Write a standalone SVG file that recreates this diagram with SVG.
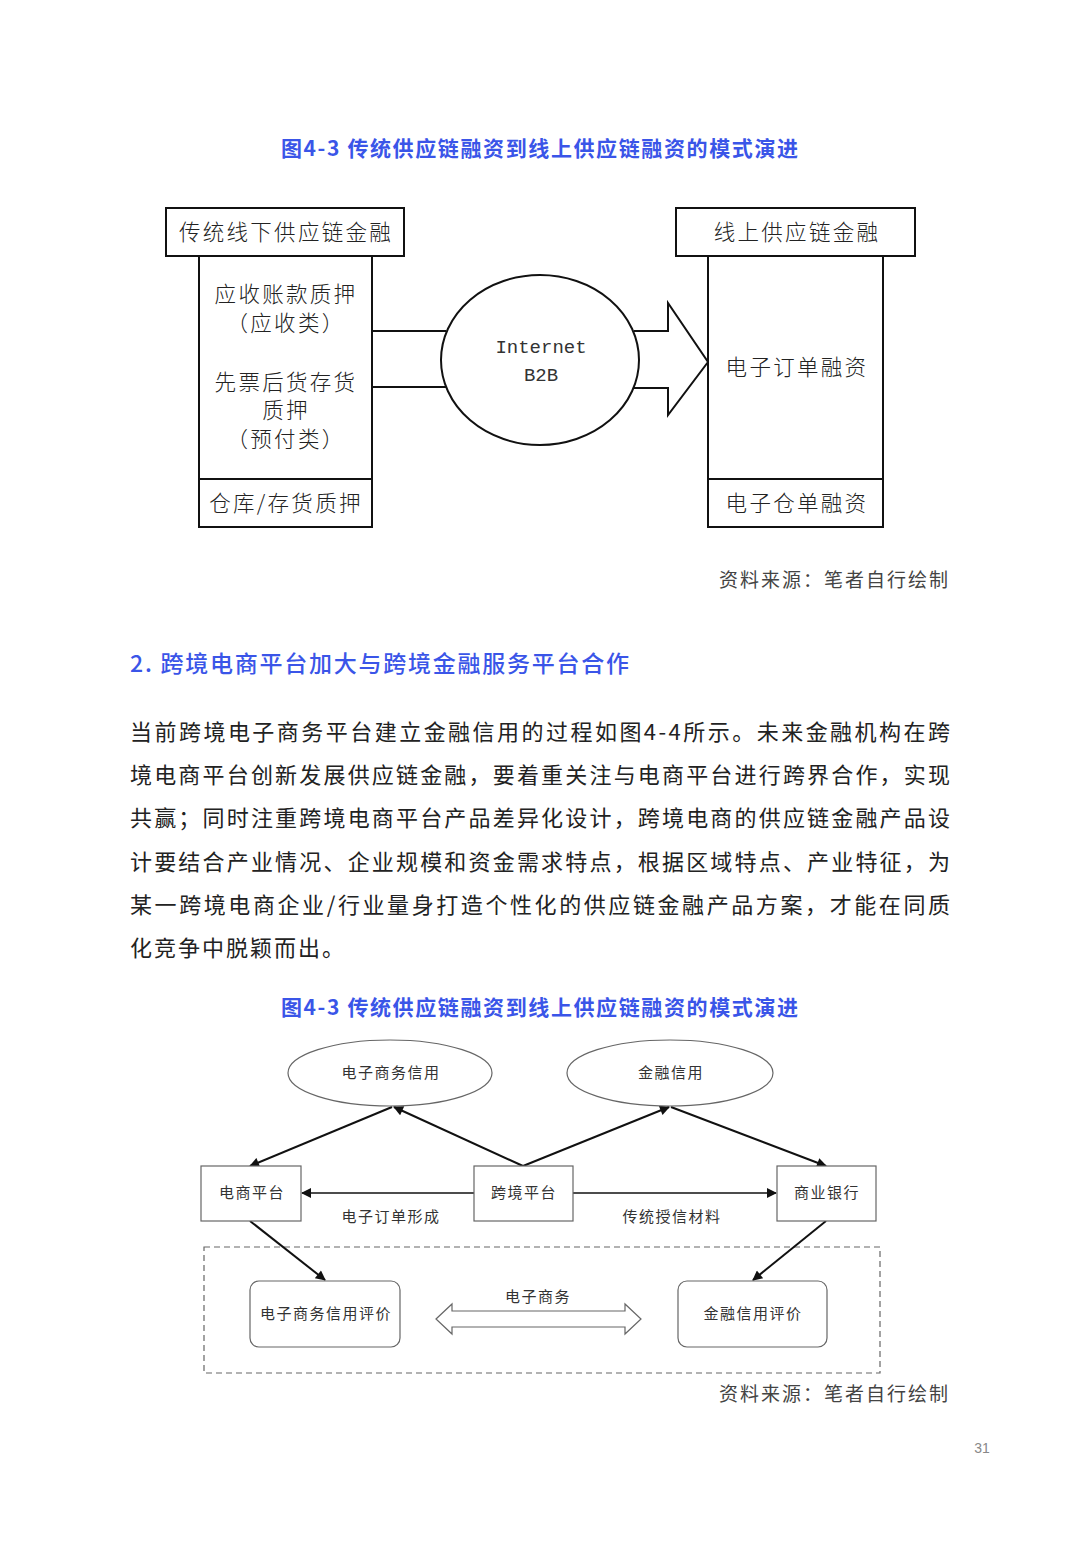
<svg xmlns="http://www.w3.org/2000/svg" width="1080" height="1560" viewBox="0 0 1080 1560">
<defs>
<style>
.ttl{font-family:"Noto Sans CJK SC","Noto Sans",sans-serif;font-size:21px;font-weight:bold;fill:#3a55e8}
.hd{font-family:"Noto Sans CJK SC","Noto Sans",sans-serif;font-size:23px;font-weight:500;fill:#3a55e8}
.para{font-family:"Noto Sans CJK SC","Noto Sans",sans-serif;font-size:22px;fill:#222}
.src{font-family:"Noto Sans CJK SC",sans-serif;font-size:19px;fill:#444;text-anchor:end;letter-spacing:2px}
.t1{font-family:"Noto Sans CJK SC",sans-serif;font-size:21.5px;fill:#222;text-anchor:middle;font-weight:300;letter-spacing:2.3px}
.mono{font-family:"Liberation Mono",monospace;font-size:19px;fill:#333;text-anchor:middle}
.bx{fill:#fff;stroke:#111;stroke-width:2}
.t2{font-family:"Noto Sans CJK SC",sans-serif;font-size:15px;fill:#333;text-anchor:middle;letter-spacing:1.5px}
.n2{fill:#fff;stroke:#666;stroke-width:1.2}
.ar{stroke:#111;stroke-width:2;fill:none;marker-end:url(#ah)}
</style>
<marker id="ah" viewBox="0 0 10 10" refX="9" refY="5" markerWidth="12" markerHeight="10" markerUnits="userSpaceOnUse" orient="auto">
<path d="M0,0 L10,5 L0,10 z" fill="#111"/>
</marker>
</defs>
<rect width="1080" height="1560" fill="#fff"/>

<text class="ttl" x="281" y="156" textLength="517" lengthAdjust="spacing">图4-3 传统供应链融资到线上供应链融资的模式演进</text>

<!-- Top diagram -->
<g id="connectors-top">
<line x1="372" y1="331" x2="446" y2="331" stroke="#111" stroke-width="2"/>
<line x1="372" y1="387" x2="446" y2="387" stroke="#111" stroke-width="2"/>
<path d="M634,331 L668,331 L668,303 L708,362 L668,415 L668,388 L634,388" fill="#fff" stroke="#111" stroke-width="2"/>
</g>
<g id="offline-header">
<rect class="bx" x="166" y="208" width="238" height="48"/>
<text class="t1" x="286" y="240">传统线下供应链金融</text>
</g>
<g id="offline-body">
<rect class="bx" x="199" y="256" width="173" height="223"/>
<text class="t1" x="286" y="302">应收账款质押</text>
<text class="t1" x="286" y="331">（应收类）</text>
<text class="t1" x="286" y="390">先票后货存货</text>
<text class="t1" x="286" y="418">质押</text>
<text class="t1" x="286" y="447">（预付类）</text>
</g>
<g id="offline-bottom">
<rect class="bx" x="199" y="479" width="173" height="48"/>
<text class="t1" x="286" y="511">仓库/存货质押</text>
</g>
<g id="internet">
<ellipse cx="540" cy="360" rx="99" ry="85" fill="#fff" stroke="#111" stroke-width="2"/>
<text class="mono" x="541" y="353">Internet</text>
<text class="mono" x="541" y="381">B2B</text>
</g>
<g id="online-header">
<rect class="bx" x="676" y="208" width="239" height="48"/>
<text class="t1" x="797" y="240">线上供应链金融</text>
</g>
<g id="online-body">
<rect class="bx" x="708" y="256" width="175" height="223"/>
<text class="t1" x="797" y="375">电子订单融资</text>
</g>
<g id="online-bottom">
<rect class="bx" x="708" y="479" width="175" height="48"/>
<text class="t1" x="797" y="511">电子仓单融资</text>
</g>

<text class="src" x="950" y="587">资料来源：笔者自行绘制</text>

<text class="hd" x="130" y="672" textLength="499" lengthAdjust="spacing">2.  跨境电商平台加大与跨境金融服务平台合作</text>

<text class="para" x="130" y="740" textLength="820" lengthAdjust="spacing">当前跨境电子商务平台建立金融信用的过程如图4-4所示。未来金融机构在跨</text>
<text class="para" x="130" y="783" textLength="820" lengthAdjust="spacing">境电商平台创新发展供应链金融，要着重关注与电商平台进行跨界合作，实现</text>
<text class="para" x="130" y="826" textLength="820" lengthAdjust="spacing">共赢；同时注重跨境电商平台产品差异化设计，跨境电商的供应链金融产品设</text>
<text class="para" x="130" y="870" textLength="820" lengthAdjust="spacing">计要结合产业情况、企业规模和资金需求特点，根据区域特点、产业特征，为</text>
<text class="para" x="130" y="913" textLength="820" lengthAdjust="spacing">某一跨境电商企业/行业量身打造个性化的供应链金融产品方案，才能在同质</text>
<text class="para" x="130" y="956" letter-spacing="2">化竞争中脱颖而出。</text>

<text class="ttl" x="281" y="1015" textLength="517" lengthAdjust="spacing">图4-3 传统供应链融资到线上供应链融资的模式演进</text>

<!-- Bottom diagram -->
<rect id="eval-zone" x="204" y="1247" width="676" height="126" fill="none" stroke="#666" stroke-width="1.2" stroke-dasharray="6,4"/>
<g id="connectors-bottom">
<line class="ar" x1="523" y1="1166" x2="394" y2="1107"/>
<line class="ar" x1="392" y1="1107" x2="250" y2="1166"/>
<line class="ar" x1="523" y1="1166" x2="669" y2="1107"/>
<line class="ar" x1="671" y1="1107" x2="826" y2="1166"/>
<line x1="474" y1="1193" x2="302" y2="1193" stroke="#111" stroke-width="1.5" marker-end="url(#ah)"/>
<line x1="573" y1="1193" x2="776" y2="1193" stroke="#111" stroke-width="1.5" marker-end="url(#ah)"/>
<line class="ar" x1="250" y1="1221" x2="325" y2="1280"/>
<line class="ar" x1="826" y1="1221" x2="753" y2="1280"/>
<path d="M436,1319 L452,1304 L452,1311 L625,1311 L625,1304 L641,1319 L625,1334 L625,1327 L452,1327 L452,1334 Z" fill="#fff" stroke="#666" stroke-width="1.2"/>
<text class="t2" x="391" y="1222">电子订单形成</text>
<text class="t2" x="672" y="1222">传统授信材料</text>
<text class="t2" x="538" y="1302">电子商务</text>
</g>
<g id="ec-credit">
<ellipse class="n2" cx="390" cy="1073" rx="102" ry="33"/>
<text class="t2" x="391" y="1078">电子商务信用</text>
</g>
<g id="fin-credit">
<ellipse class="n2" cx="670" cy="1073" rx="103" ry="33"/>
<text class="t2" x="671" y="1078">金融信用</text>
</g>
<g id="ec-platform">
<rect class="n2" x="201" y="1166" width="100" height="55"/>
<text class="t2" x="252" y="1198">电商平台</text>
</g>
<g id="cb-platform">
<rect class="n2" x="474" y="1166" width="99" height="55"/>
<text class="t2" x="524" y="1198">跨境平台</text>
</g>
<g id="bank">
<rect class="n2" x="777" y="1166" width="99" height="55"/>
<text class="t2" x="827" y="1198">商业银行</text>
</g>
<g id="ec-eval">
<rect class="n2" x="250" y="1281" width="150" height="66" rx="9"/>
<text class="t2" x="326" y="1319">电子商务信用评价</text>
</g>
<g id="fin-eval">
<rect class="n2" x="678" y="1281" width="149" height="66" rx="9"/>
<text class="t2" x="753" y="1319">金融信用评价</text>
</g>

<text class="src" x="950" y="1401">资料来源：笔者自行绘制</text>
<text x="982" y="1453" font-family="Liberation Sans,sans-serif" font-size="14" fill="#888" text-anchor="middle">31</text>
</svg>
